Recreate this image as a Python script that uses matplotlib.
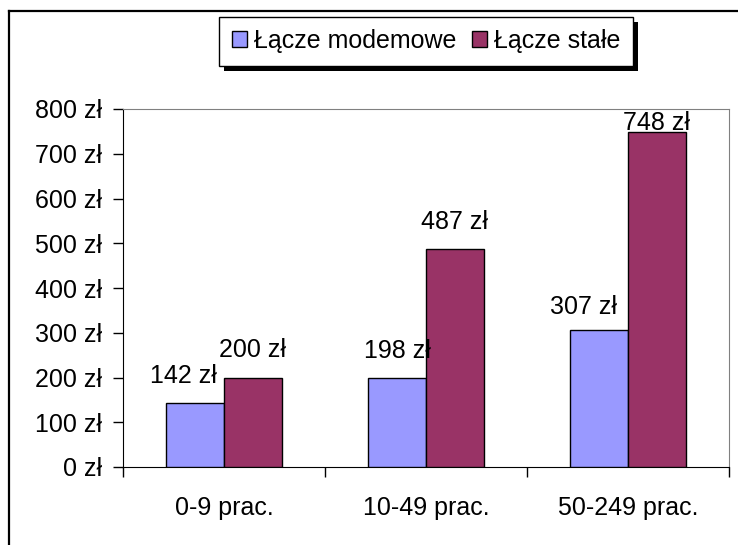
import numpy as np
import matplotlib
matplotlib.use("Agg")
from matplotlib import pyplot as plt
from matplotlib.lines import Line2D
from matplotlib.patches import Rectangle

plt.rcParams['font.family'] = ['Liberation Sans', 'DejaVu Sans']

categories = ['0-9 prac.', '10-49 prac.', '50-249 prac.']
series_names = ['Łącze modemowe', 'Łącze stałe']
modem = [142, 198, 307]
stale = [200, 487, 748]
yticks = [0, 100, 200, 300, 400, 500, 600, 700, 800]
ytick_labels = [f'{v} zł' for v in yticks]

colors = ['#9999FF', '#993366']
fs = 18

fig = plt.figure(figsize=(7.38, 5.45), dpi=100)
ax = fig.add_axes([123/738, 1-467/545, (729-123)/738, (467-109)/545])

x = np.arange(len(categories)) + 0.5
w = 0.285
b1 = ax.bar(x - w/2, modem, w, color=colors[0], edgecolor='black', linewidth=1, label=series_names[0], zorder=3)
b2 = ax.bar(x + w/2, stale, w, color=colors[1], edgecolor='black', linewidth=1, label=series_names[1], zorder=3)

ax.set_xlim(0, 3)
ax.set_ylim(0, 800)

# data labels (small pixel nudges where the labels were moved apart)
nudges = {0: [(-12, 0), (0, 0), (-16, -5)], 1: [(0, 0), (0, 0), (0, 0)]}
for s, (xs, vals) in enumerate([(x - w/2, modem), (x + w/2, stale)]):
    for i, (xi, v) in enumerate(zip(xs, vals)):
        y = min(v + 45, 800 - 47)
        dx, dy = nudges[s][i]
        ax.annotate(f'{v} zł', (xi, y), xytext=(dx * 0.72, dy * 0.72), textcoords='offset points',
                    ha='center', va='baseline', fontsize=fs, zorder=4)

ax.set_yticks(yticks)
ax.set_yticklabels(ytick_labels, fontsize=fs)
ax.tick_params(axis='y', direction='out', length=7, width=1, pad=8)

ax.set_xticks([0, 1, 2, 3])
ax.set_xticklabels([])
ax.set_xticks(x, minor=True)
ax.set_xticklabels(categories, minor=True, fontsize=fs)
ax.tick_params(axis='x', which='major', direction='out', length=7, width=1)
ax.tick_params(axis='x', which='minor', length=0, pad=21)

ax.spines['top'].set_color('#808080')
ax.spines['right'].set_color('#808080')
ax.spines['left'].set_color('black')
ax.spines['bottom'].set_color('black')

leg = fig.legend(handles=[b1, b2], loc='center', bbox_to_anchor=(426/738, 1-41/545),
                 ncol=2, fontsize=fs, frameon=True, fancybox=False, framealpha=1,
                 handlelength=0.6, handleheight=0.6, handletextpad=0.3,
                 columnspacing=0.6, borderpad=0.5, borderaxespad=0)
leg.get_frame().set_edgecolor('black')
leg.get_frame().set_linewidth(1)

# outer chart border (left and top)
fig.add_artist(Line2D([8.5/738, 8.5/738], [0, 1-10.5/545], color='black', linewidth=1.6))
fig.add_artist(Line2D([8.5/738, 1], [1-10.5/545, 1-10.5/545], color='black', linewidth=1.6))

# legend shadow
fig.canvas.draw()
bb = leg.get_window_extent()
fig.add_artist(Rectangle((bb.x0 + 5, bb.y0 - 5), bb.width, bb.height,
                         transform=None, facecolor='black', edgecolor='none', zorder=leg.get_zorder() - 0.1))

fig.savefig('out.png', dpi=100)
